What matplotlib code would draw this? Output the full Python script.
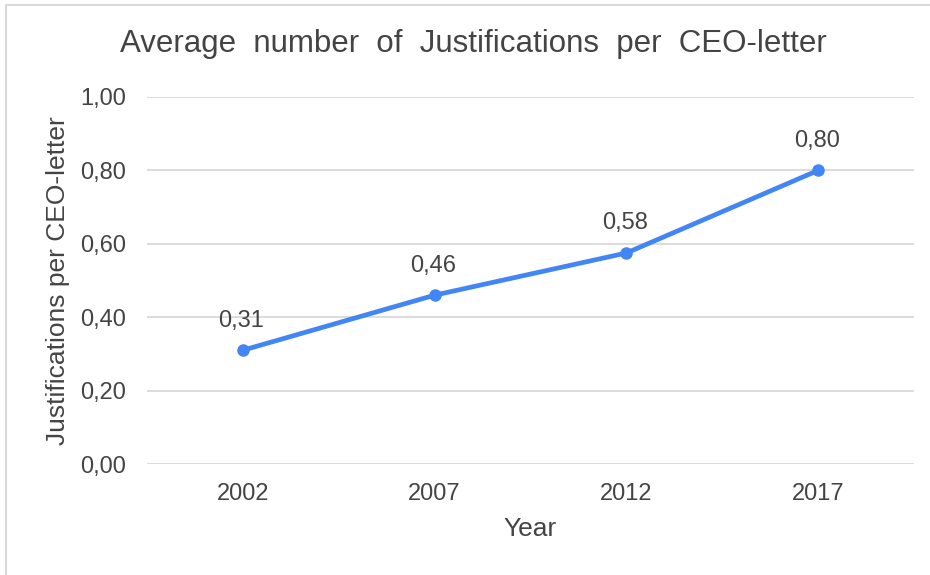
import matplotlib.pyplot as plt
from matplotlib.lines import Line2D

years = ['2002', '2007', '2012', '2017']
justifications = [0.31, 0.46, 0.575, 0.80]
point_labels = ['0,31', '0,46', '0,58', '0,80']
y_ticks = [0.0, 0.2, 0.4, 0.6, 0.8, 1.0]

text_color = '#444444'
line_color = '#4285F4'

plt.rcParams['font.family'] = ['Liberation Sans', 'DejaVu Sans']

fig = plt.figure(figsize=(9.3, 5.75), dpi=100)
ax = fig.add_axes([147 / 930, 1 - 464 / 575, (914 - 147) / 930, (464 - 97) / 575])

x = list(range(len(years)))
ax.plot(x, justifications, color=line_color, linewidth=3.4, marker='o',
        markersize=8, solid_capstyle='round', zorder=3)

for xi, yi, lab in zip(x, justifications, point_labels):
    ax.annotate(lab, (xi, yi), xytext=(-1, 17), textcoords='offset points',
                ha='center', va='baseline', fontsize=17, color=text_color)

ax.set_xlim(-0.5, len(years) - 0.5)
ax.set_ylim(0, 1.0)
ax.set_xticks(x)
ax.set_xticklabels(years)
ax.set_yticks(y_ticks)
ax.set_yticklabels([f'{v:.2f}'.replace('.', ',') for v in y_ticks])
ax.tick_params(axis='both', length=0, labelsize=17, colors=text_color)
ax.tick_params(axis='x', pad=14)
ax.tick_params(axis='y', pad=15)
for s in ax.spines.values():
    s.set_visible(False)
ax.grid(axis='y', color='#d6d6d6', linewidth=1.2)
ax.set_axisbelow(True)

ax.set_xlabel('Year', fontsize=19, color=text_color, va='center')
ax.xaxis.set_label_coords(0.5, (464 - 529) / 367)
ax.set_ylabel('Justifications per CEO-letter', fontsize=19, color=text_color, va='center')
ax.yaxis.set_label_coords((58 - 147) / 767, 0.5)

fig.text(473 / 930, 1 - 44 / 575, 'Average  number  of  Justifications  per  CEO-letter',
         ha='center', va='center', fontsize=22.5, color=text_color)

# light frame at top and left like the screenshot
fig.add_artist(Line2D([6 / 930, 1], [1 - 5 / 575, 1 - 5 / 575], color='#d9d9d9', linewidth=1.5))
fig.add_artist(Line2D([6 / 930, 6 / 930], [0, 1 - 5 / 575], color='#d9d9d9', linewidth=1.5))

fig.savefig('out.png', dpi=100, facecolor='white')
